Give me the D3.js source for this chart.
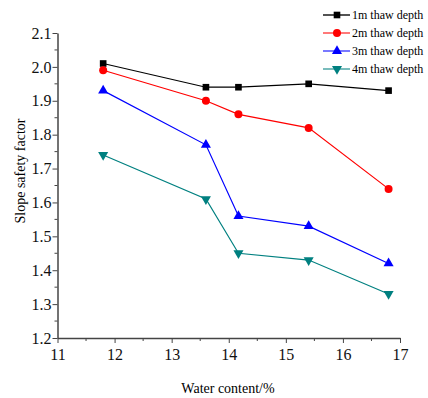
<!DOCTYPE html>
<html>
<head>
<meta charset="utf-8">
<script src="https://cdn.jsdelivr.net/npm/d3@7"></script>
<style>
  body { margin: 0; background: #fff; }
  text { font-family: "Liberation Serif", "Times New Roman", serif; }
</style>
</head>
<body>
<script>
// water content (%) for each test
let waterContent = [11.8, 13.6, 14.17, 15.4, 16.8];
let seriesNames = ["1m thaw depth", "2m thaw depth", "3m thaw depth", "4m thaw depth"];
let depth1 = [2.01, 1.94, 1.94, 1.95, 1.93];
let depth2 = [1.99, 1.90, 1.86, 1.82, 1.64];
let depth3 = [1.93, 1.77, 1.56, 1.53, 1.42];
let depth4 = [1.74, 1.61, 1.45, 1.43, 1.33];
let xTicks = [11, 12, 13, 14, 15, 16, 17];
let yTicks = [1.2, 1.3, 1.4, 1.5, 1.6, 1.7, 1.8, 1.9, 2.0, 2.1];

let width = 428, height = 398;
let colors = ["#000000", "#ff0000", "#0000ff", "#008080"];
let symbols = [d3.symbolSquare, d3.symbolCircle, d3.symbolTriangle, d3.symbolTriangle];
let allSeries = [depth1, depth2, depth3, depth4];

let x = d3.scaleLinear().domain([11, 17]).range([57.5, 400]);
let y = d3.scaleLinear().domain([1.2, 2.1]).range([338, 33]);

let svg = d3.select("body").append("svg")
    .attr("width", width)
    .attr("height", height);

// minor ticks
let gx = svg.append("g").attr("transform", "translate(0,338)");
gx.selectAll("line.minor")
  .data(d3.range(11.5, 17, 1))
  .enter().append("line")
  .attr("x1", d => x(d)).attr("x2", d => x(d))
  .attr("y1", 0).attr("y2", 3)
  .attr("stroke", "#444").attr("stroke-width", 1);
gx.call(d3.axisBottom(x).tickValues(xTicks).tickFormat(d3.format("d")).tickSize(5).tickSizeOuter(0))
gx.select(".domain").attr("stroke", "#444").attr("stroke-width", 1.5);
gx.selectAll(".tick line").attr("stroke", "#444").attr("stroke-width", 1);
gx.selectAll(".tick text").attr("font-size", 16).attr("fill", "#111")
  .attr("font-family", "Liberation Serif").attr("dy", "0.9em");

let gy = svg.append("g").attr("transform", "translate(57.5,0)");
gy.selectAll("line.minor")
  .data(d3.range(1.25, 2.1, 0.1))
  .enter().append("line")
  .attr("y1", d => y(d)).attr("y2", d => y(d))
  .attr("x1", 0).attr("x2", -3)
  .attr("stroke", "#444").attr("stroke-width", 1);
gy.call(d3.axisLeft(y).tickValues(yTicks).tickFormat(d3.format(".1f")).tickSize(5).tickSizeOuter(0));
gy.select(".domain").attr("stroke", "#444").attr("stroke-width", 1.5);
gy.selectAll(".tick line").attr("stroke", "#444").attr("stroke-width", 1);
gy.selectAll(".tick text").attr("font-size", 16).attr("fill", "#111")
  .attr("font-family", "Liberation Serif").attr("x", -6);

// axis titles
svg.append("text")
  .attr("x", 228).attr("y", 393)
  .attr("text-anchor", "middle")
  .attr("font-size", 14)
  .text("Water content/%");

svg.append("text")
  .attr("transform", "translate(25,171) rotate(-90)")
  .attr("text-anchor", "middle")
  .attr("font-size", 14)
  .text("Slope safety factor");

// lines and markers
let line = d3.line()
  .x((d, i) => x(waterContent[i]))
  .y(d => y(d));

let drawMarker = (sel, k) => {
  sel.attr("d", d3.symbol().type(symbols[k]).size(k == 1 ? 50 : 44))
     .attr("fill", colors[k]);
};

allSeries.forEach((vals, k) => {
  svg.append("path")
    .datum(vals)
    .attr("d", line)
    .attr("fill", "none")
    .attr("stroke", colors[k])
    .attr("stroke-width", 1.2);

  svg.append("g").selectAll("path")
    .data(vals)
    .enter().append("path")
    .attr("transform", (d, i) => `translate(${x(waterContent[i])},${y(d)})` + (k == 3 ? " rotate(180)" : ""))
    .call(drawMarker, k);
});

// legend
let legend = svg.append("g");
seriesNames.forEach((name, k) => {
  let ly = 15 + k * 18;
  legend.append("line")
    .attr("x1", 323).attr("x2", 350)
    .attr("y1", ly).attr("y2", ly)
    .attr("stroke", colors[k])
    .attr("stroke-opacity", k == 0 ? 0.9 : 0.7)
    .attr("stroke-width", 1.5);
  legend.append("path")
    .attr("transform", `translate(337,${ly})` + (k == 3 ? " rotate(180)" : ""))
    .call(drawMarker, k);
  legend.append("text")
    .attr("x", 352).attr("y", ly + 4)
    .attr("font-size", 12)
    .text(name);
});
</script>
</body>
</html>
